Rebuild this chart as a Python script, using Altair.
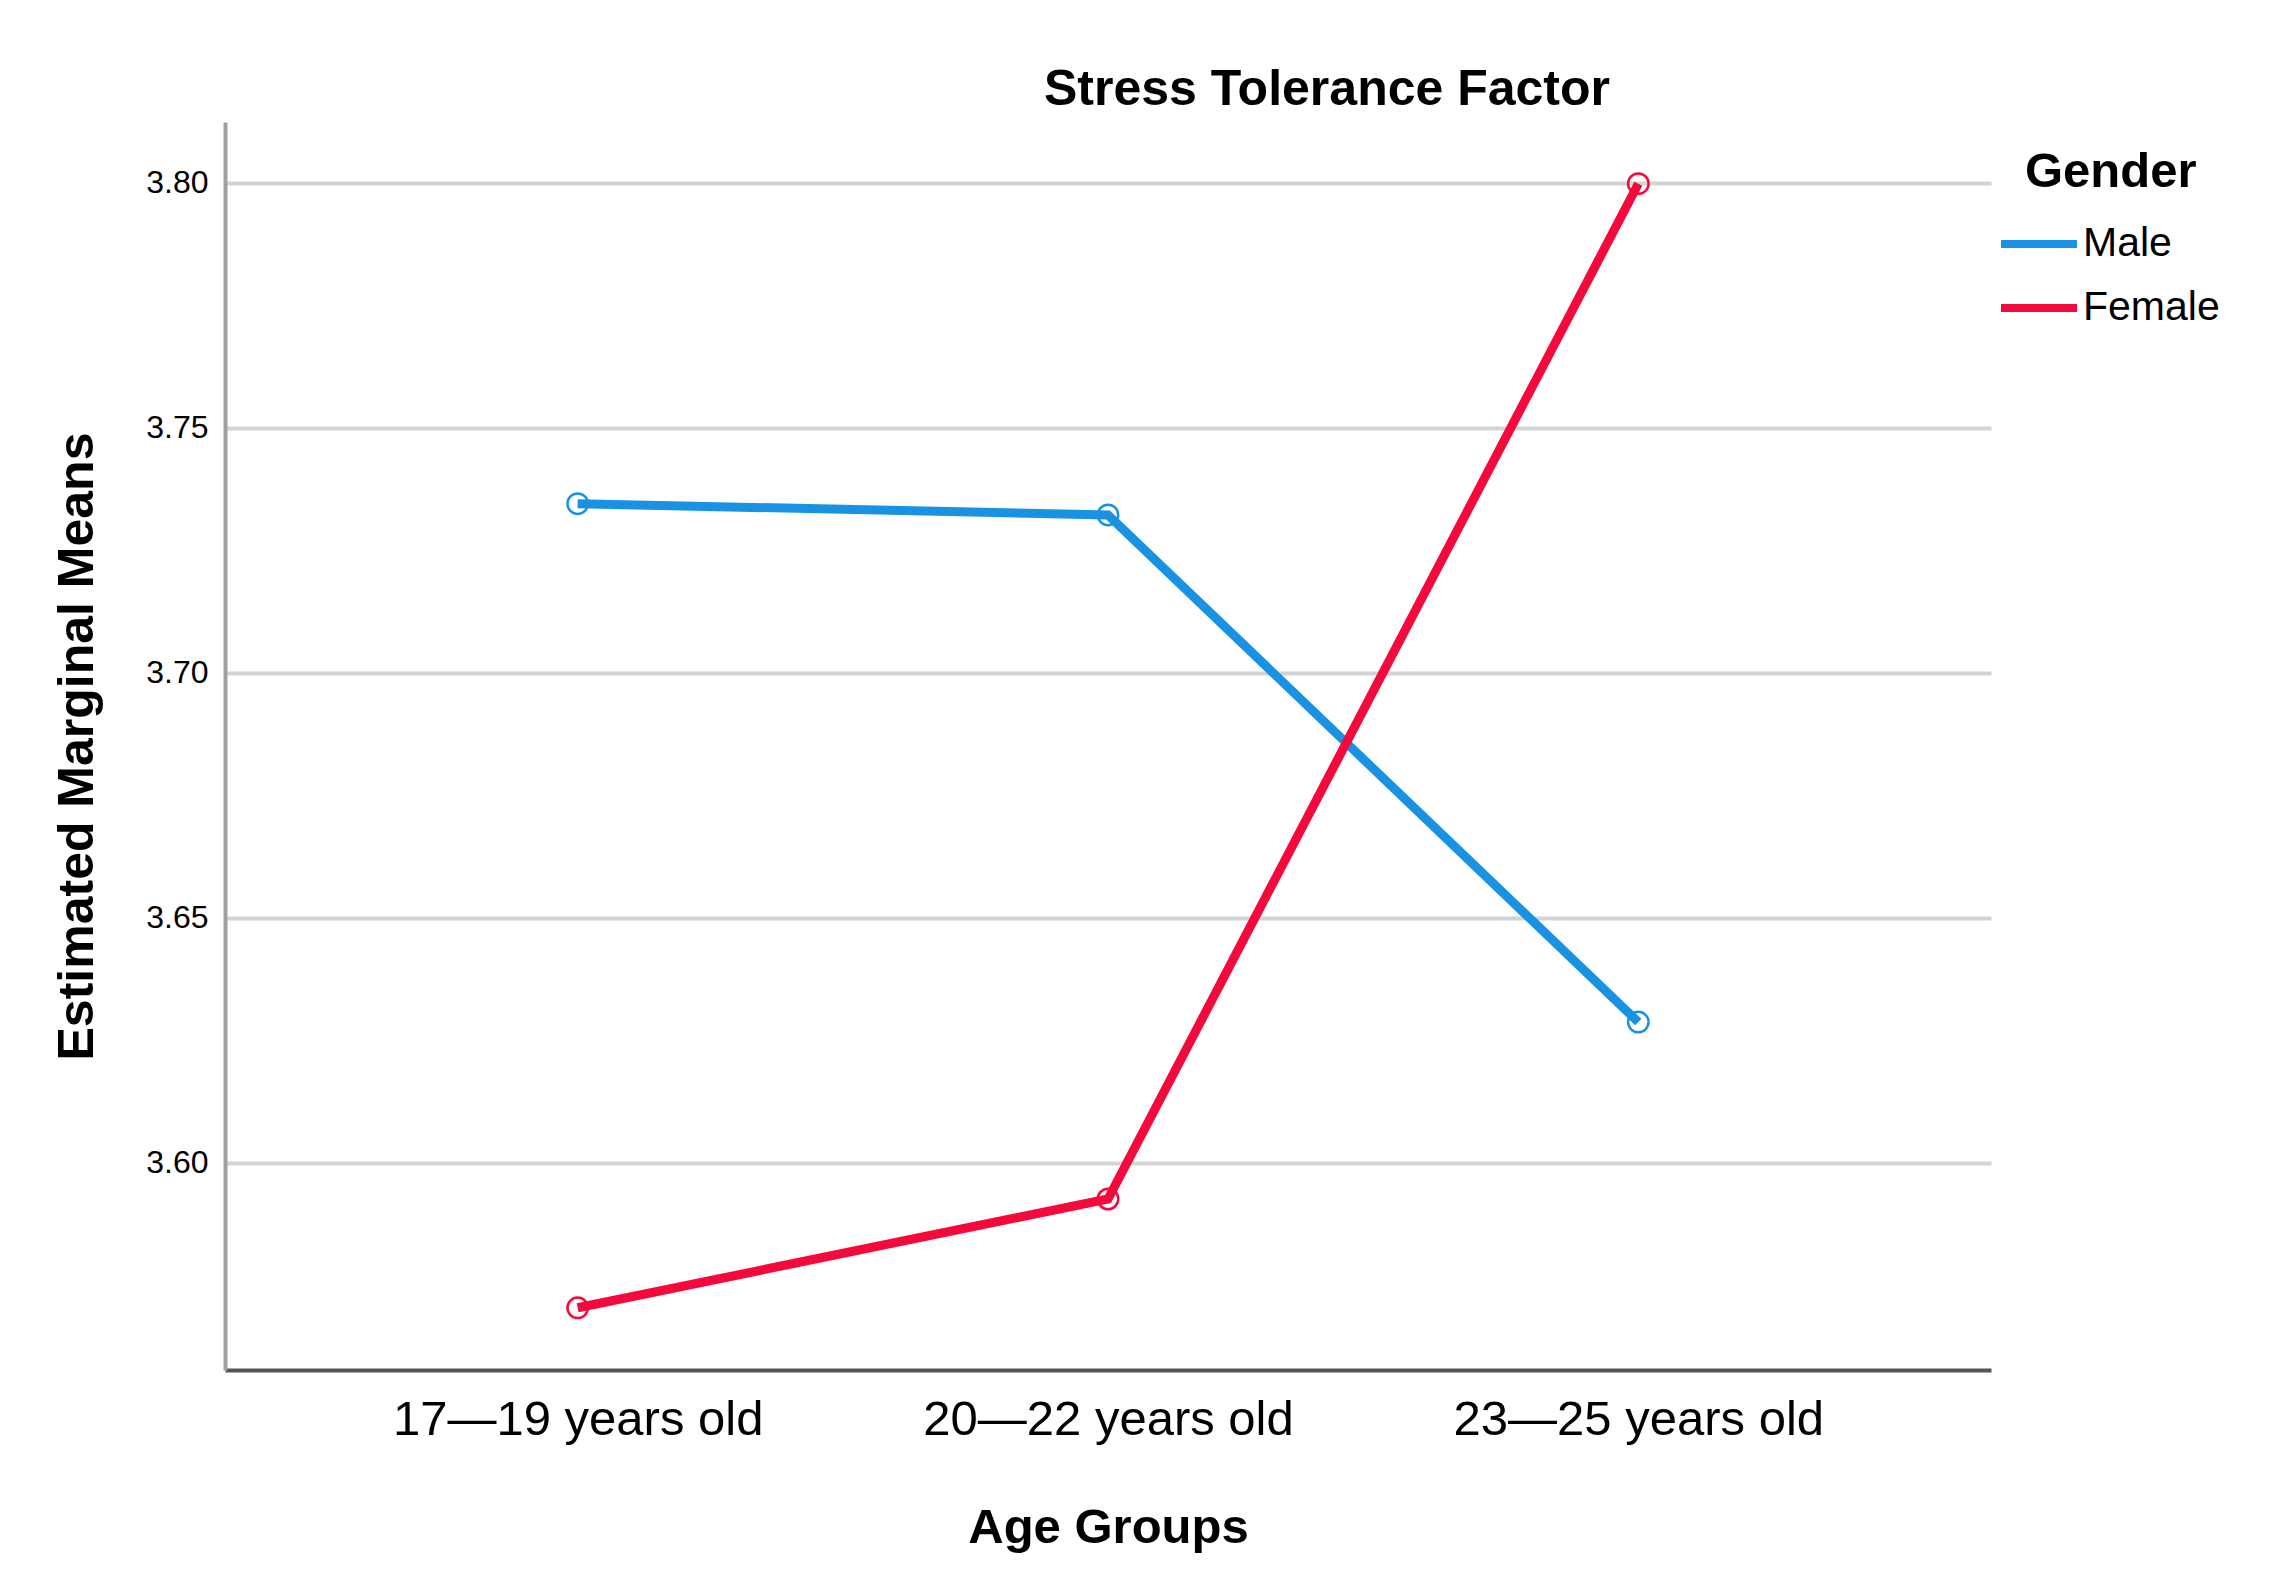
import altair as alt
import pandas as pd

age_groups = ["17—19 years old", "20—22 years old", "23—25 years old"]
genders = ["Male", "Female"]
male_means = [3.7345, 3.7322, 3.6287]
female_means = [3.5704, 3.5926, 3.7998]
y_ticks = [3.60, 3.65, 3.70, 3.75, 3.80]
colors = ["#1a92e3", "#f5093c"]

rows = []
for g, vals in zip(genders, [male_means, female_means]):
    for a, v in zip(age_groups, vals):
        rows.append({"Age Groups": a, "Gender": g, "Mean": v})
df = pd.DataFrame(rows)

FONT = "Liberation Sans"

x_enc = alt.X(
    "Age Groups:N",
    sort=age_groups,
    scale=alt.Scale(type="point", padding=0.665),
    axis=alt.Axis(
        title="Age Groups",
        titleFontSize=49,
        titleFontWeight="bold",
        titleFont=FONT,
        titleColor="black",
        titleBaseline="alphabetic",
        titleY=172,
        labelFontSize=49,
        labelFont=FONT,
        labelColor="black",
        labelPadding=25,
        labelAngle=0,
        labelLimit=0,
        ticks=False,
        tickSize=0,
        domainColor="#555555",
        domainWidth=4,
        grid=False,
    ),
)
y_enc = alt.Y(
    "Mean:Q",
    scale=alt.Scale(domain=[3.5577, 3.8124], nice=False, zero=False),
    axis=alt.Axis(
        title="Estimated Marginal Means",
        titleFontSize=50,
        titleFontWeight="bold",
        titleFont=FONT,
        titleColor="black",
        titleBaseline="alphabetic",
        titleX=-133,
        titleY=624,
        values=y_ticks,
        format=".2f",
        labelFontSize=32,
        labelFont=FONT,
        labelColor="black",
        labelPadding=17,
        ticks=False,
        tickSize=0,
        domainColor="#a0a0a0",
        domainWidth=4,
        grid=True,
        gridColor="#d4d4d4",
        gridWidth=4,
    ),
)
color_enc = alt.Color(
    "Gender:N",
    sort=genders,
    scale=alt.Scale(domain=genders, range=colors),
    legend=alt.Legend(
        title="Gender",
        orient="none",
        legendX=1800,
        legendY=26,
        padding=0,
        titleFontSize=49,
        titleFontWeight="bold",
        titleFont=FONT,
        titleColor="black",
        titlePadding=5,
        labelFontSize=41,
        labelFont=FONT,
        labelColor="black",
        symbolType="stroke",
        symbolSize=5776,
        symbolStrokeWidth=8,
        symbolOffset=-28,
        labelOffset=2,
    ),
)

base = alt.Chart(df).encode(x=x_enc, y=y_enc, color=color_enc)
lines = base.mark_line(strokeWidth=9)
points = base.mark_point(shape="circle", filled=False, size=420, strokeWidth=2.5, opacity=1)

chart = (
    alt.layer(lines, points)
    .properties(
        width=1766,
        height=1248,
        view=alt.ViewBackground(stroke="transparent", strokeWidth=0),
        title=alt.TitleParams(
            "Stress Tolerance Factor",
            fontSize=50,
            fontWeight="bold",
            font=FONT,
            color="black",
            anchor="middle",
            dx=219,
            dy=50,
            baseline="alphabetic",
            offset=17,
        ),
        padding={"left": 217, "top": 114, "right": 260, "bottom": 210},
        autosize=alt.AutoSizeParams(type="none"),
    )
    .configure_view(stroke="transparent", strokeWidth=0)
    .configure(background="white")
)

chart.save("out.html", embed_options={"renderer": "svg", "actions": False})
